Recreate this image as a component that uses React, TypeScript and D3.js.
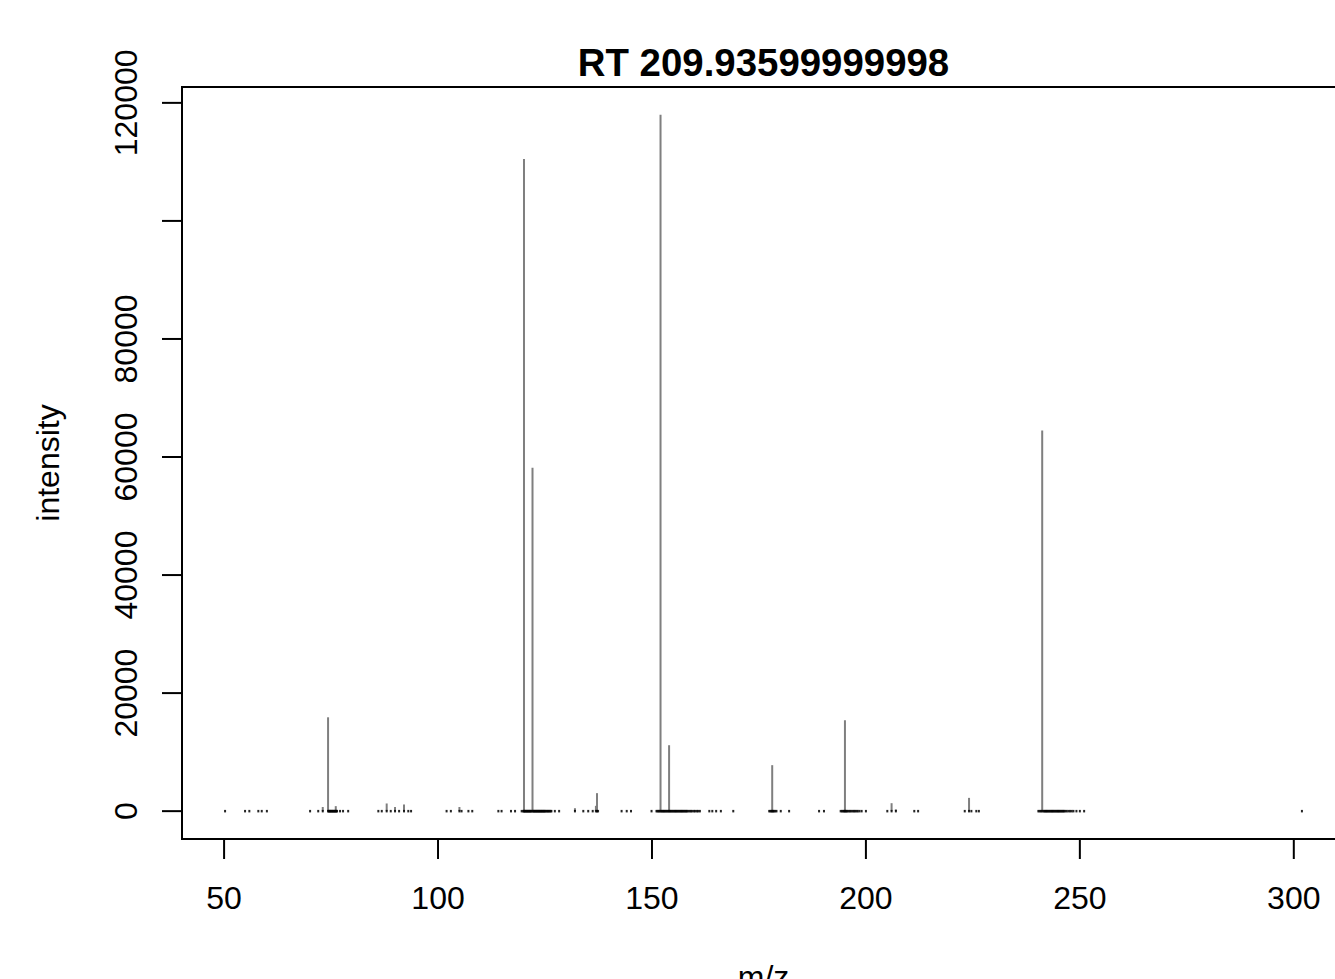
import React from 'react'
import * as d3 from 'd3'

// main peaks (m/z, intensity)
const majorMz = [74.3, 120.09, 122.08, 137.15, 152.0, 154.0, 178.1, 195.1, 206.0, 224.1, 241.2]
const majorInt = [15900, 110500, 58200, 3050, 117970, 11170, 7790, 15400, 1350, 2250, 64480]

// small peaks that show a short stem
const minorMz = [73.06, 76.1, 88.0, 89.95, 92.05, 105.0, 132.0, 136.9, 207.0]
const minorInt = [700, 850, 1300, 700, 1130, 700, 500, 900, 300]

// baseline noise points
const noiseMz = [
  50.23, 54.9, 55.9, 58.0, 58.8, 60.0, 70.1, 72.0,
  74.45, 74.6, 74.75, 74.9, 75.05, 75.2, 75.35, 75.5, 75.65, 75.8, 75.95, 76.25, 76.4, 77.1, 77.8, 79.0,
  86.05, 86.85, 88.95, 90.9, 93.05, 93.7,
  102.0, 103.0, 105.5, 107.1, 108.0, 114.1, 114.85, 117.05, 118.0,
  119.55, 119.9, 120.2, 120.35, 120.5, 120.65, 120.8, 120.95, 121.1, 121.25, 121.4, 121.55, 121.7, 121.85,
  122.25, 122.4, 122.55, 122.7, 122.85, 123.0, 123.15, 123.3, 123.45, 123.6, 123.75, 123.9, 124.05, 124.2,
  124.35, 124.5, 124.65, 124.8, 124.95, 125.1, 125.3, 125.5, 125.7, 125.9, 126.1, 126.3, 126.5, 127.3, 128.3,
  133.95, 135.1, 136.15, 137.4, 142.9, 144.1, 145.1, 149.9,
  151.05, 151.3, 151.55, 151.75, 152.2, 152.4, 152.6, 152.8, 153.0, 153.2, 153.4, 153.6, 153.8,
  154.2, 154.4, 154.6, 154.8, 155.0, 155.2, 155.4, 155.6, 155.8, 156.0, 156.2, 156.4, 156.6, 156.8,
  157.0, 157.2, 157.4, 157.6, 157.8, 158.0, 158.2, 158.5, 158.8, 159.1, 159.4, 159.8, 160.1, 160.5, 160.8, 161.2,
  163.4, 164.1, 165.0, 166.1, 169.0,
  177.4, 177.7, 177.9, 178.3, 178.5, 178.8, 179.1, 180.1, 182.05, 189.05, 190.2,
  194.1, 194.4, 194.7, 194.9, 195.3, 195.5, 195.7, 196.0, 196.3, 196.6, 196.9, 197.2, 197.5, 197.8, 198.1,
  198.5, 199.0, 200.0, 205.0, 211.3, 212.2,
  223.1, 224.65, 225.8, 226.4,
  240.3, 240.6, 240.9, 241.5, 241.7, 241.9, 242.1, 242.3, 242.5, 242.7, 242.9, 243.1, 243.3, 243.5, 243.7,
  243.9, 244.1, 244.3, 244.5, 244.7, 244.9, 245.1, 245.3, 245.5, 245.7, 245.9, 246.1, 246.3, 246.6, 246.9,
  247.3, 247.7, 248.1, 248.5, 249.2, 250.0, 251.0,
  301.9,
]

const xTicks = [50, 100, 150, 200, 250, 300]
const yTicks = [0, 20000, 40000, 60000, 80000, 100000, 120000]
const yTickLabels = ['0', '20000', '40000', '60000', '80000', '', '120000']

const title = 'RT 209.93599999998'

const W = 1335
const H = 979
const font = '"Liberation Sans", Arial, Helvetica, sans-serif'

export default function App() {
  const allMz = [...majorMz, ...minorMz, ...noiseMz]
  const allInt = [...majorInt, ...minorInt]
  const xMin = d3.min(allMz)!
  const xMax = d3.max(allMz)!
  const yMax = d3.max(allInt)!
  const xPad = (xMax - xMin) * 0.04

  const left = 182
  const right = 1345
  const top = 87
  const bottom = 839

  const x = d3.scaleLinear().domain([xMin - xPad, xMax + xPad]).range([left, right])
  const y = d3.scaleLinear().domain([-0.04 * yMax, 1.04 * yMax]).range([bottom, top])

  const stems = [
    ...majorMz.map((m, i) => ({ mz: m, v: majorInt[i] })),
    ...minorMz.map((m, i) => ({ mz: m, v: minorInt[i] })),
  ]

  return (
    <svg width={W} height={H} style={{ position: 'absolute', left: 0, top: 0, background: '#fff' }}>
      <rect x={0} y={0} width={W} height={H} fill="#fff" />

      {/* peak stems */}
      {stems.map((d, i) => (
        <line key={'s' + i} x1={x(d.mz)} x2={x(d.mz)} y1={y(0)} y2={y(d.v)} stroke="#7f7f7f" strokeWidth={2} />
      ))}

      {/* baseline marks */}
      {[...noiseMz, ...majorMz, ...minorMz].map((m, i) => (
        <rect key={'n' + i} x={x(m) - 1} y={y(0) - 1.25} width={2} height={2.5} fill="#000" opacity={0.85} />
      ))}

      {/* box */}
      <rect x={left} y={top} width={right - left} height={bottom - top} fill="none" stroke="#000" strokeWidth={2} />

      {/* x axis */}
      {xTicks.map(t => (
        <g key={'x' + t}>
          <line x1={x(t)} x2={x(t)} y1={bottom} y2={bottom + 20} stroke="#000" strokeWidth={2} />
          <text x={x(t)} y={909} textAnchor="middle" fontFamily={font} fontSize={32}>{t}</text>
        </g>
      ))}

      {/* y axis */}
      {yTicks.map((t, i) => (
        <g key={'y' + t}>
          <line x1={left - 20} x2={left} y1={y(t)} y2={y(t)} stroke="#000" strokeWidth={2} />
          {yTickLabels[i] && (
            <text transform={`translate(137,${y(t)}) rotate(-90)`} textAnchor="middle" fontFamily={font} fontSize={32}>
              {yTickLabels[i]}
            </text>
          )}
        </g>
      ))}

      <text x={(left + right) / 2} y={76} textAnchor="middle" fontFamily={font} fontSize={38.4} fontWeight="bold">
        {title}
      </text>
      <text x={(left + right) / 2} y={988} textAnchor="middle" fontFamily={font} fontSize={32}>m/z</text>
      <text transform={`translate(59,${(top + bottom) / 2}) rotate(-90)`} textAnchor="middle" fontFamily={font} fontSize={32}>
        intensity
      </text>
    </svg>
  )
}
